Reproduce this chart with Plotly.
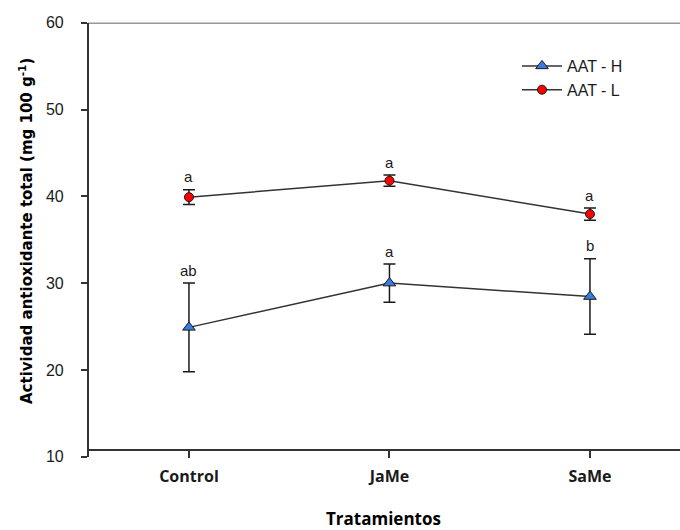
import plotly.graph_objects as go

# Treatments on the x axis
tratamientos = ["Control", "JaMe", "SaMe"]

# Total antioxidant activity (mg 100 g-1), mean and error
aat_h = [24.9, 30.0, 28.45]
aat_h_err = [5.1, 2.2, 4.35]
aat_l = [39.9, 41.8, 37.95]
aat_l_err = [0.85, 0.65, 0.7]

# Significance letters above each mean
letras_h = ["ab", "a", "b"]
letras_l = ["a", "a", "a"]

y_ticks = [10, 20, 30, 40, 50, 60]

W, H = 680, 530
x_left = 87.7 / W
y_bot = (H - 456.7) / H
y_top = (H - 22.7) / H
x_axis_pos = (H - 450) / H

ink = "#1a1a1a"
line_col = "#333333"
sans = "Liberation Sans, Arial, sans-serif"
bold_font = "Open Sans, DejaVu Sans, sans-serif"

fig = go.Figure()

fig.add_trace(go.Scatter(
    x=tratamientos, y=aat_h, name="AAT - H", mode="lines+markers",
    line=dict(color=line_col, width=1.5),
    marker=dict(symbol="triangle-up", size=11, color="#3a7be0",
                line=dict(color=ink, width=1)),
    error_y=dict(type="data", array=aat_h_err, visible=True,
                 color=ink, thickness=1.5, width=6),
))
fig.add_trace(go.Scatter(
    x=tratamientos, y=aat_l, name="AAT - L", mode="lines+markers",
    line=dict(color=line_col, width=1.5),
    marker=dict(symbol="circle", size=9, color="#ff0000",
                line=dict(color=ink, width=1)),
    error_y=dict(type="data", array=aat_l_err, visible=True,
                 color=ink, thickness=1.5, width=6),
))

annotations = []
for vals, errs, letras in ((aat_h, aat_h_err, letras_h), (aat_l, aat_l_err, letras_l)):
    for cat, v, e, t in zip(tratamientos, vals, errs, letras):
        annotations.append(dict(
            x=cat, y=v + e, xref="x", yref="y", text=t, showarrow=False,
            yanchor="middle", yshift=13,
            font=dict(family=sans, size=15, color=ink),
        ))

# Axis titles
annotations.append(dict(
    x=(87.7 + 680) / 2 / W, y=0, xref="paper", yref="paper",
    text="<b>Tratamientos</b>", showarrow=False, xanchor="center", yanchor="bottom",
    yshift=-2,
    font=dict(family=bold_font, size=17, color="#000000"),
))
annotations.append(dict(
    x=26 / W, y=(H - 231) / H, xref="paper", yref="paper",
    text="<b>Actividad antioxidante total (mg 100 g<sup>-1</sup>)</b>",
    showarrow=False, textangle=-90, xanchor="center", yanchor="middle",
    font=dict(family="DejaVu Sans, sans-serif", size=15, color="#000000"),
))

fig.update_layout(
    width=W, height=H,
    margin=dict(l=0, r=0, t=0, b=0),
    paper_bgcolor="white", plot_bgcolor="white",
    showlegend=True,
    legend=dict(
        x=517 / W, y=(H - 49) / H, xanchor="left", yanchor="top",
        bgcolor="rgba(0,0,0,0)", borderwidth=0,
        font=dict(family=sans, size=16, color=ink),
        tracegroupgap=0, itemsizing="trace", itemwidth=40,
    ),
    annotations=annotations,
    shapes=[dict(type="line", xref="paper", yref="y", x0=x_left, x1=1,
                 y0=60, y1=60, line=dict(color=line_col, width=1.5))],
    xaxis=dict(
        type="category", domain=[x_left, 1], range=[-0.505, 2.449],
        anchor="free", position=x_axis_pos,
        showline=True, linecolor=line_col, linewidth=1.5,
        ticks="outside", ticklen=7, tickwidth=1.5, tickcolor=line_col,
        showgrid=False, zeroline=False,
        tickfont=dict(family=bold_font, size=16, color=ink),
        tickprefix="<b>", ticksuffix="</b>",
        ticklabelstandoff=5,
        automargin=False,
    ),
    yaxis=dict(
        domain=[y_bot, y_top], range=[10, 60],
        anchor="free", position=x_left,
        tickvals=y_ticks,
        showline=True, linecolor=line_col, linewidth=1.5,
        ticks="outside", ticklen=6, tickwidth=1.5, tickcolor=line_col,
        showgrid=False, zeroline=False,
        tickfont=dict(family=sans, size=16, color=ink),
        ticklabelstandoff=14,
        automargin=False,
    ),
)

fig.write_html("out.html")
